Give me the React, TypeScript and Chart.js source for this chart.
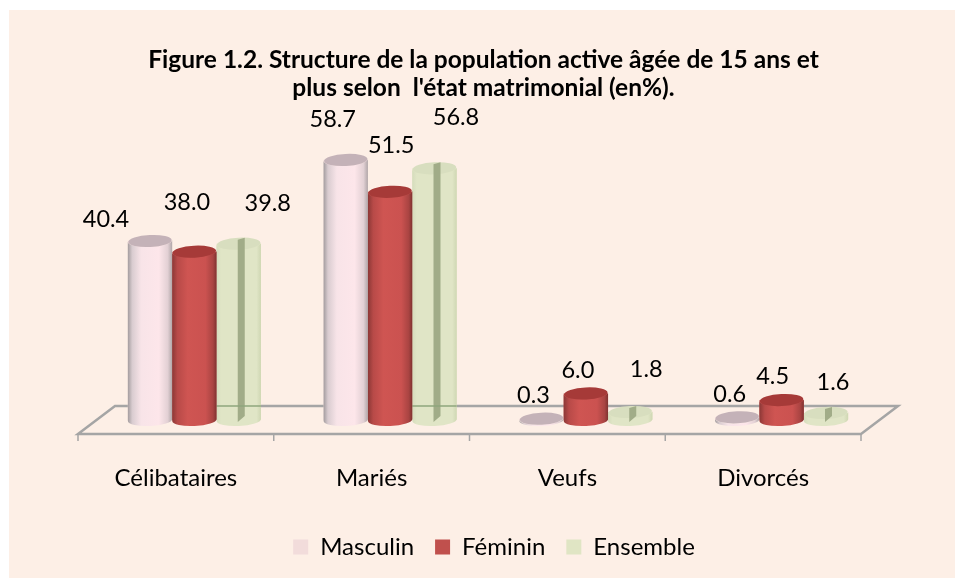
import { useEffect, useRef } from "react";
import { Chart, registerables } from "chart.js";

Chart.register(...registerables);

const categories = ["Célibataires", "Mariés", "Veufs", "Divorcés"];
const masculin = [40.4, 58.7, 0.3, 0.6];
const feminin = [38.0, 51.5, 6.0, 4.5];
const ensemble = [39.8, 56.8, 1.8, 1.6];
const seriesNames = ["Masculin", "Féminin", "Ensemble"];
const seriesColors = ["#F2DCDB", "#C0504D", "#E0E5C4"];
const titleLines = [
  "Figure 1.2. Structure de la population active âgée de 15 ans et",
  "plus selon  l'état matrimonial (en%).",
];
// hand-placed data label offsets from the top of each cylinder (as in the reference)
const labelOffsets = [
  [[-44, -22], [-7.5, -49], [29, -40]],
  [[-13, -40], [1, -46], [21.5, -51]],
  [[-8, -23], [-8, -22.5], [16, -43]],
  [[-7.5, -23], [-9, -24], [7, -30]],
];
const FONT = "Lato, 'Open Sans', sans-serif";
const DEPTH = 18.5;

type Palette = { stops: [number, string][]; top: string };
const palettes: Palette[] = [
  {
    stops: [[0, "#a39c9e"], [0.1, "#d9ccd0"], [0.3, "#f8e4e8"], [0.7, "#fde6ea"], [0.9, "#e2d0d4"], [1, "#b0a6a8"]],
    top: "#c4b2b8",
  },
  {
    stops: [[0, "#8c3836"], [0.12, "#b84a48"], [0.35, "#cf5552"], [0.75, "#cb5250"], [0.92, "#a94442"], [1, "#7f3230"]],
    top: "#a63a38",
  },
  {
    stops: [[0, "#d5dcbc"], [0.1, "#e0e5c6"], [0.9, "#e0e5c6"], [1, "#cfd7b3"]],
    top: "#d8debf",
  },
];

const TILT = -0.05;

function drawCylinder(ctx: CanvasRenderingContext2D, x: number, top: number, base: number, w: number, idx: number) {
  const p = palettes[idx];
  const rx = w / 2;
  const ry = 6;
  const left = x - rx;
  const g = ctx.createLinearGradient(left, 0, left + w, 0);
  p.stops.forEach(([o, c]) => g.addColorStop(o, c));
  ctx.save();
  ctx.fillStyle = g;
  ctx.beginPath();
  ctx.ellipse(x, base, rx, ry, TILT, 0, Math.PI);
  ctx.lineTo(left, top);
  ctx.ellipse(x, top, rx, ry, TILT, Math.PI, 0, true);
  ctx.closePath();
  ctx.fill();
  ctx.fillStyle = p.top;
  ctx.beginPath();
  ctx.ellipse(x, top, rx - 0.5, ry, TILT, 0, Math.PI * 2);
  ctx.fill();
  if (idx === 2) {
    // translucent inner band of the green cylinders
    const bx = x - 1;
    const bw = 7;
    ctx.fillStyle = "#a1ac88";
    ctx.beginPath();
    ctx.moveTo(bx, top - 4);
    ctx.lineTo(bx + bw, top - 6);
    ctx.lineTo(bx + bw, base - 4);
    ctx.lineTo(bx, base + 2);
    ctx.closePath();
    ctx.fill();
  }
  ctx.restore();
}

const scenePlugin = {
  id: "scene",
  beforeDraw(chart: any) {
    const { ctx, width, height } = chart;
    ctx.save();
    ctx.fillStyle = "#ffffff";
    ctx.fillRect(0, 0, width, height);
    ctx.fillStyle = "#FDEFE6";
    ctx.fillRect(9, 10, width - 9, height - 10);
    ctx.restore();
  },
  beforeDatasetsDraw(chart: any) {
    const { ctx, chartArea } = chart;
    const { left, right, bottom } = chartArea;
    const fy = bottom + 14;
    const by = bottom - 14;
    ctx.save();
    ctx.strokeStyle = "#a5a5a5";
    ctx.lineWidth = 2.5;
    ctx.beginPath();
    ctx.moveTo(left - DEPTH, fy);
    ctx.lineTo(left + DEPTH, by);
    ctx.lineTo(right + DEPTH, by);
    ctx.lineTo(right - DEPTH, fy);
    ctx.closePath();
    ctx.stroke();
    const n = categories.length;
    ctx.lineWidth = 1.5;
    for (let i = 0; i <= n; i++) {
      const x = left - DEPTH + ((right - left) * i) / n;
      ctx.beginPath();
      ctx.moveTo(x, fy);
      ctx.lineTo(x, fy + 7);
      ctx.stroke();
    }
    ctx.restore();
  },
  afterDatasetsDraw(chart: any) {
    const { ctx, chartArea } = chart;
    [0, 2, 1].forEach((d) => {
      chart.getDatasetMeta(d).data.forEach((el: any) => {
        drawCylinder(ctx, el.x, el.y, el.base, el.width, d);
        if (d === 2 && el.y < chartArea.bottom - 14) {
          ctx.save();
          ctx.strokeStyle = "#8fa67c";
          ctx.lineWidth = 1.5;
          ctx.beginPath();
          ctx.moveTo(el.x - el.width / 2, chartArea.bottom - 14);
          ctx.lineTo(el.x + el.width / 2, chartArea.bottom - 14);
          ctx.stroke();
          ctx.restore();
        }
      });
    });
    ctx.save();
    ctx.fillStyle = "#000";
    ctx.font = `23.5px ${FONT}`;
    ctx.textAlign = "center";
    ctx.textBaseline = "middle";
    chart.data.datasets.forEach((ds: any, d: number) => {
      chart.getDatasetMeta(d).data.forEach((el: any, i: number) => {
        const [dx, dy] = labelOffsets[i][d];
        ctx.fillText(ds.data[i].toFixed(1), el.x + dx, el.y + dy);
      });
    });
    ctx.restore();
  },
  afterLayout(chart: any) {
    const lg = chart.legend;
    if (lg) {
      lg.left += 16.5;
      lg.right += 16.5;
    }
    const t = chart.titleBlock;
    if (t) {
      t.left += 6;
      t.right += 6;
    }
  },
};

export default function App() {
  const ref = useRef<HTMLCanvasElement>(null);
  useEffect(() => {
    document.body.style.margin = "0";
    const chart = new Chart(ref.current!, {
      type: "bar",
      data: {
        labels: categories,
        datasets: [masculin, feminin, ensemble].map((data, i) => ({
          label: seriesNames[i],
          data,
          backgroundColor: seriesColors[i],
          borderWidth: 0,
        })),
      },
      options: {
        animation: false,
        responsive: false,
        layout: { padding: { left: 0, right: 0, top: 0, bottom: 9 } },
        datasets: { bar: { categoryPercentage: 0.68, barPercentage: 1 } },
        scales: {
          x: {
            grid: { display: false },
            border: { display: false },
            ticks: { color: "#000", font: { family: FONT, size: 24 }, padding: 35.5, labelOffset: -DEPTH, maxRotation: 0 },
            afterFit(s: any) {
              s.height = 94;
            },
          },
          y: {
            min: 0,
            max: 70,
            display: true,
            grid: { display: false },
            border: { display: false },
            ticks: { display: false },
            afterFit(s: any) {
              s.width = 96.5;
            },
          },
          y2: {
            position: "right",
            display: true,
            grid: { display: false },
            border: { display: false },
            ticks: { display: false },
            afterFit(s: any) {
              s.width = 75.5;
            },
          },
        },
        plugins: {
          tooltip: { enabled: false },
          title: {
            display: true,
            text: titleLines,
            color: "#000",
            font: { family: FONT, size: 24.5, weight: "bold", lineHeight: 1.15 },
            padding: { top: 46, bottom: 7.5 },
          },
          legend: {
            position: "bottom",
            labels: {
              color: "#000",
              font: { family: FONT, size: 24 },
              boxWidth: 15,
              boxHeight: 15,
              padding: 21,
            },
          },
        },
      },
      plugins: [scenePlugin],
    } as any);
    return () => chart.destroy();
  }, []);
  return <canvas ref={ref} width={955} height={578} style={{ display: "block" }} />;
}
